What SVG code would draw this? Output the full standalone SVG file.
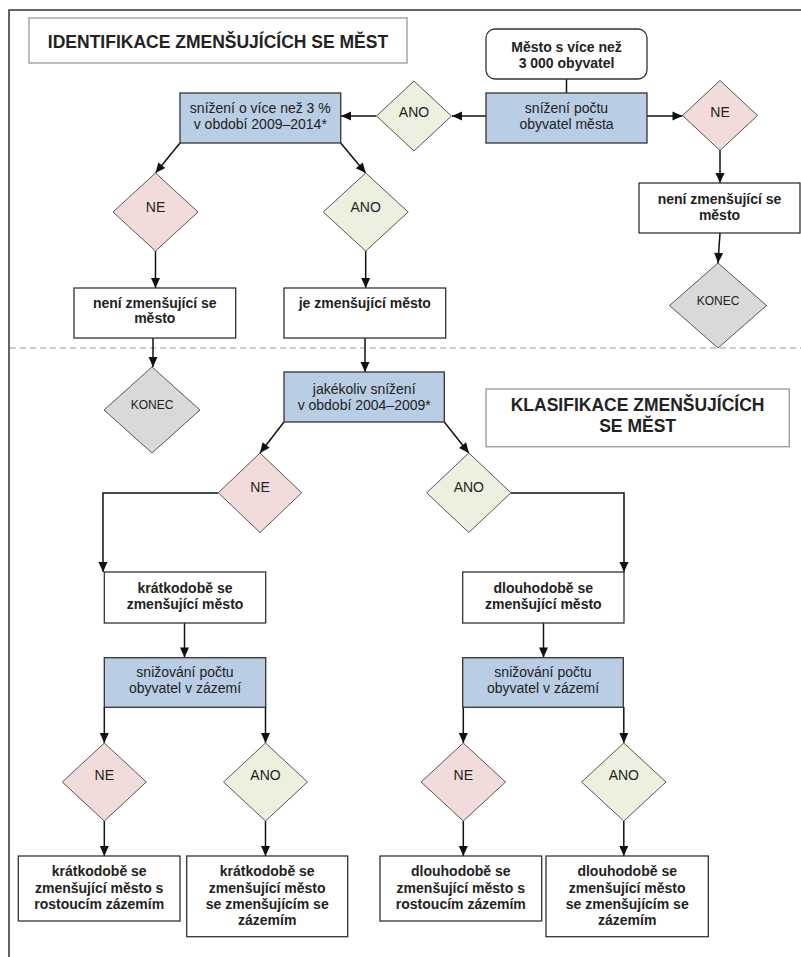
<svg xmlns="http://www.w3.org/2000/svg" width="801" height="957" viewBox="0 0 801 957">
<defs>
<marker id="ah" markerUnits="userSpaceOnUse" markerWidth="12" markerHeight="12" viewBox="0 0 12 12" refX="11" refY="6" orient="auto">
<path d="M1,1.5 L11,6 L1,10.5 Z" fill="#111"/>
</marker>
<style>
.t{font-family:"Liberation Sans",Arial,sans-serif;fill:#222;text-anchor:middle}
.r{font-size:14px}
.b{font-size:14px;font-weight:bold}
.k{font-size:12px}
.h{font-size:17.5px;font-weight:bold}
.box{fill:#fff;stroke:#333;stroke-width:1.3}
.blue{fill:#b9cde5;stroke:#333;stroke-width:1.3}
.ne{fill:#f2dcdb;stroke:#555;stroke-width:1}
.ano{fill:#ebf1de;stroke:#555;stroke-width:1}
.end{fill:#d9d9d9;stroke:#555;stroke-width:1}
.title{fill:#fff;stroke:#999;stroke-width:1.3}
.c{fill:none;stroke:#111;stroke-width:1.5}
.ca{fill:none;stroke:#111;stroke-width:1.5;marker-end:url(#ah)}
</style>
</defs>
<rect width="801" height="957" fill="#fff"/>
<g id="frame">
<path d="M9,957 V10 H801" fill="none" stroke="#333" stroke-width="1.5"/>
<line x1="10" y1="348" x2="801" y2="348" stroke="#999" stroke-width="1" stroke-dasharray="6,4"/>
</g>
<g id="connectors">
<line class="c" x1="566.5" y1="79" x2="566.5" y2="93"/>
<line class="ca" x1="486" y1="116" x2="452" y2="116"/>
<line class="ca" x1="647" y1="116" x2="682.5" y2="116"/>
<line class="ca" x1="720" y1="150" x2="720" y2="183"/>
<line class="ca" x1="720" y1="233" x2="718" y2="263"/>
<line class="ca" x1="376.5" y1="116" x2="341" y2="116"/>
<line class="ca" x1="180" y1="143" x2="155.5" y2="173"/>
<line class="ca" x1="340.7" y1="143" x2="365.7" y2="173"/>
<line class="ca" x1="155.5" y1="251" x2="155.5" y2="288"/>
<line class="ca" x1="365.7" y1="251" x2="365.7" y2="288"/>
<line class="ca" x1="153" y1="338" x2="153" y2="367"/>
<line class="ca" x1="365" y1="338" x2="365" y2="372"/>
<line class="ca" x1="284" y1="422" x2="260" y2="453"/>
<line class="ca" x1="444.3" y1="422" x2="468.8" y2="453"/>
<path class="ca" d="M218.3,493 H103 V572"/>
<path class="ca" d="M511,493 H624 V572"/>
<line class="ca" x1="184.5" y1="623" x2="184.5" y2="657.5"/>
<line class="ca" x1="543.5" y1="623" x2="543.5" y2="657.5"/>
<line class="ca" x1="104.3" y1="707" x2="104.3" y2="743"/>
<line class="ca" x1="265.5" y1="707" x2="265.5" y2="743"/>
<line class="ca" x1="463.3" y1="707" x2="463.3" y2="743"/>
<line class="ca" x1="623.8" y1="707" x2="623.8" y2="743"/>
<line class="ca" x1="104.3" y1="821" x2="104.3" y2="856"/>
<line class="ca" x1="265.5" y1="821" x2="265.5" y2="856"/>
<line class="ca" x1="463.3" y1="821" x2="463.3" y2="856"/>
<line class="ca" x1="623.8" y1="821" x2="623.8" y2="856"/>
</g>
<g id="title1">
<rect class="title" x="29" y="18" width="378" height="45"/>
<text class="t h" x="218" y="47.5">IDENTIFIKACE ZMENŠUJÍCÍCH SE MĚST</text>
</g>
<g id="start">
<rect class="box" x="486" y="29" width="161" height="50" rx="9"/>
<text class="t b" x="566.5" y="51.5">Město s více než</text>
<text class="t b" x="566.5" y="67.5">3 000 obyvatel</text>
</g>
<g id="q1">
<rect class="blue" x="486" y="93" width="161" height="50"/>
<text class="t r" x="566.5" y="113">snížení počtu</text>
<text class="t r" x="566.5" y="129">obyvatel města</text>
</g>
<g id="ano1">
<polygon class="ano" points="414,81 451.5,116 414,151 376.5,116"/>
<text class="t r" x="414" y="116.5">ANO</text>
</g>
<g id="ne1">
<polygon class="ne" points="720,80.5 757.5,115.5 720,150.5 682.5,115.5"/>
<text class="t r" x="720" y="116.5">NE</text>
</g>
<g id="not1">
<rect class="box" x="639" y="183" width="161" height="50"/>
<text class="t b" x="719.5" y="204">není zmenšující se</text>
<text class="t b" x="719.5" y="219.5">město</text>
</g>
<g id="end1">
<polygon class="end" points="718,263 766.5,305.5 718,348 669.5,305.5"/>
<text class="t k" x="718" y="305">KONEC</text>
</g>
<g id="q2">
<rect class="blue" x="180" y="93" width="160.7" height="50"/>
<text class="t r" x="260.3" y="113">snížení o více než 3 %</text>
<text class="t r" x="260.3" y="129">v období 2009–2014*</text>
</g>
<g id="ne2">
<polygon class="ne" points="155.5,173 198,212 155.5,251 113,212"/>
<text class="t r" x="155.5" y="211.5">NE</text>
</g>
<g id="ano2">
<polygon class="ano" points="365.7,173 408.2,212 365.7,251 323.2,212"/>
<text class="t r" x="365.7" y="211.5">ANO</text>
</g>
<g id="not2">
<rect class="box" x="74" y="288" width="161.7" height="50"/>
<text class="t b" x="154.8" y="307.5">není zmenšující se</text>
<text class="t b" x="154.8" y="323.3">město</text>
</g>
<g id="is">
<rect class="box" x="284" y="288" width="161.7" height="50"/>
<text class="t b" x="364.8" y="307.5">je zmenšující město</text>
</g>
<g id="end2">
<polygon class="end" points="152,367 200,410 152,453 104,410"/>
<text class="t k" x="152" y="409">KONEC</text>
</g>
<g id="q3">
<rect class="blue" x="284" y="372" width="160.3" height="50"/>
<text class="t r" x="364.2" y="393.5">jakékoliv snížení</text>
<text class="t r" x="364.2" y="409.5">v období 2004–2009*</text>
</g>
<g id="title2">
<rect class="title" x="486" y="389" width="303.3" height="57.7"/>
<text class="t h" x="637.6" y="411">KLASIFIKACE ZMENŠUJÍCÍCH</text>
<text class="t h" x="637.6" y="431.7">SE MĚST</text>
</g>
<g id="ne3">
<polygon class="ne" points="260,453 301.7,492.8 260,532.5 218.3,492.8"/>
<text class="t r" x="260" y="491.7">NE</text>
</g>
<g id="ano3">
<polygon class="ano" points="468.8,453 511,492.8 468.8,532.5 426.6,492.8"/>
<text class="t r" x="468.8" y="491.7">ANO</text>
</g>
<g id="short">
<rect class="box" x="104.3" y="572" width="161.4" height="51"/>
<text class="t b" x="185" y="593.3">krátkodobě se</text>
<text class="t b" x="185" y="609.3">zmenšující město</text>
</g>
<g id="long">
<rect class="box" x="462.7" y="572" width="161.3" height="51"/>
<text class="t b" x="543.3" y="593.3">dlouhodobě se</text>
<text class="t b" x="543.3" y="609.3">zmenšující město</text>
</g>
<g id="q4">
<rect class="blue" x="104.3" y="657.7" width="161.4" height="49.6"/>
<text class="t r" x="185" y="677.3">snižování počtu</text>
<text class="t r" x="185" y="693.3">obyvatel v zázemí</text>
</g>
<g id="q5">
<rect class="blue" x="462.7" y="657.7" width="160.6" height="49.6"/>
<text class="t r" x="543" y="677.3">snižování počtu</text>
<text class="t r" x="543" y="693.3">obyvatel v zázemí</text>
</g>
<g id="ne4">
<polygon class="ne" points="104.3,743 146.3,782 104.3,821 62.3,782"/>
<text class="t r" x="104.3" y="780">NE</text>
</g>
<g id="ano4">
<polygon class="ano" points="265.5,743 307.5,782 265.5,821 223.5,782"/>
<text class="t r" x="265.5" y="780">ANO</text>
</g>
<g id="ne5">
<polygon class="ne" points="463.3,743 505.5,782 463.3,821 421.1,782"/>
<text class="t r" x="463.3" y="780">NE</text>
</g>
<g id="ano5">
<polygon class="ano" points="623.8,743 666,782 623.8,821 581.6,782"/>
<text class="t r" x="623.8" y="780">ANO</text>
</g>
<g id="r1">
<rect class="box" x="18.3" y="856" width="161.7" height="65"/>
<text class="t b" x="99.2" y="876">krátkodobě se</text>
<text class="t b" x="99.2" y="892.5">zmenšující město s</text>
<text class="t b" x="99.2" y="908.5">rostoucím zázemím</text>
</g>
<g id="r2">
<rect class="box" x="186.7" y="856" width="161" height="80.7"/>
<text class="t b" x="267.2" y="876">krátkodobě se</text>
<text class="t b" x="267.2" y="892.5">zmenšující město</text>
<text class="t b" x="267.2" y="908.5">se zmenšujícím se</text>
<text class="t b" x="267.2" y="924.5">zázemím</text>
</g>
<g id="r3">
<rect class="box" x="380" y="856" width="161.7" height="65"/>
<text class="t b" x="460.8" y="876">dlouhodobě se</text>
<text class="t b" x="460.8" y="892.5">zmenšující město s</text>
<text class="t b" x="460.8" y="908.5">rostoucím zázemím</text>
</g>
<g id="r4">
<rect class="box" x="546" y="856" width="162.3" height="80.7"/>
<text class="t b" x="627.2" y="876">dlouhodobě se</text>
<text class="t b" x="627.2" y="892.5">zmenšující město</text>
<text class="t b" x="627.2" y="908.5">se zmenšujícím se</text>
<text class="t b" x="627.2" y="924.5">zázemím</text>
</g>
</svg>
